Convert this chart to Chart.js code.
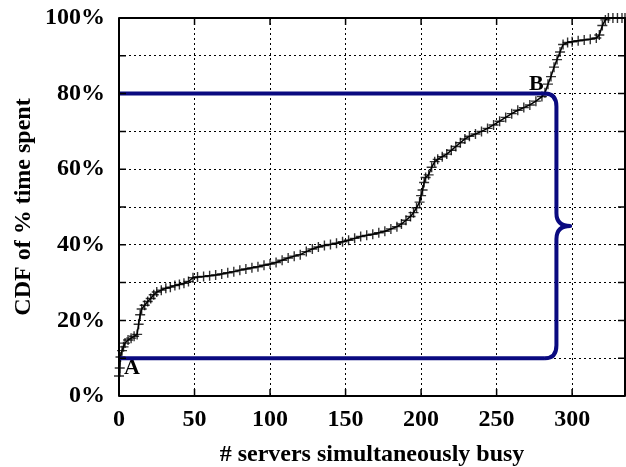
<!DOCTYPE html>
<html>
<head>
<meta charset="utf-8">
<script src="https://cdn.jsdelivr.net/npm/chart.js@4/dist/chart.umd.min.js"></script>
<style>
  html, body { margin: 0; padding: 0; background: #fff; }
  canvas { display: block; }
</style>
</head>
<body>
<canvas id="cdfChart" width="626" height="467"></canvas>
<script>
// CDF curve
const serversBusy = [
  0, 0.5, 1, 2, 3, 4, 6, 8, 10, 12, 13, 14, 15, 17, 19, 21, 23, 25, 28, 31,
  34, 37, 40, 43, 46, 49, 52, 56, 60, 64, 68, 72, 76, 80, 84, 88, 92, 96, 100, 104,
  108, 112, 116, 120, 124, 128, 132, 136, 140, 144, 148, 152, 156, 160, 164, 168, 172, 176, 180, 184,
  187, 190, 193, 195, 197, 199, 200, 201, 202, 203, 205, 207, 209, 211, 214, 217, 220, 223, 226, 229,
  232, 236, 240, 244, 248, 252, 256, 260, 264, 268, 272, 276, 280, 282, 284, 286, 288, 290, 292, 294,
  297, 300, 304, 308, 312, 316, 318, 320, 322, 324, 327, 330, 333, 335
];
const cdfPercent = [
  5.3, 7.4, 10.3, 12, 13, 14, 14.8, 15.3, 15.8, 16.3, 19, 21.5, 23, 24, 25, 25.8, 26.8, 27.5, 28, 28.5,
  28.8, 29.2, 29.5, 29.8, 30.3, 31.3, 31.5, 31.6, 31.8, 32, 32.3, 32.6, 32.9, 33.3, 33.6, 33.9, 34.2, 34.6, 34.9, 35.3,
  35.9, 36.5, 37, 37.4, 38.2, 38.9, 39.4, 39.8, 40.1, 40.4, 40.8, 41.2, 41.7, 42.2, 42.5, 42.8, 43.2, 43.6, 44.2, 44.8,
  45.5, 46.5, 47.5, 48.5, 49.8, 51.3, 53, 54.5, 56.5, 57.8, 58.5, 60.5, 62, 62.6, 63.3, 64, 65, 66, 67, 68,
  68.7, 69.3, 70, 70.8, 71.7, 72.7, 73.7, 74.7, 75.6, 76.3, 77, 78, 79.2, 80.2, 82.5, 84.5, 87, 89, 91, 93,
  93.5, 93.7, 94, 94.2, 94.4, 94.7, 95.5, 98, 99.5, 100, 100, 100, 100, 100
];

// axes
const xTickValues = [0, 50, 100, 150, 200, 250, 300];
const yGridValues = [0, 10, 20, 30, 40, 50, 60, 70, 80, 90, 100];
const yLabelValues = [0, 20, 40, 60, 80, 100];

// annotation: the two levels, the brace and the A / B labels
const markLevels = [10, 80];
const markEndX = 282;
const braceX = [282, 289.6, 298.7];   // start, spine, tip
const braceY = [10, 45, 80];          // bottom, tip, top
const pointLabels = ['A', 'B'];
const pointLabelX = [3.3, 271.5];
const pointLabelY = [5.7, 81];

const NAVY = '#0a0a80';
const FONT = "'Liberation Serif', 'Times New Roman', serif";

const curve = serversBusy.map((x, i) => ({ x: x, y: cdfPercent[i] }));

const levelSets = markLevels.map(lv => ({
    data: [{ x: 0, y: lv }, { x: markEndX, y: lv }],
    borderColor: NAVY,
    borderWidth: 4,
    pointRadius: 0,
    order: 0
}));

// text labels, drawn under the datasets
const labelPlugin = {
    id: 'pointLabels',
    beforeDatasetsDraw(chart) {
        const ctx = chart.ctx, xs = chart.scales.x, ys = chart.scales.y;
        ctx.save();
        ctx.font = 'bold 22px ' + FONT;
        ctx.fillStyle = '#000';
        ctx.textAlign = 'left';
        ctx.textBaseline = 'alphabetic';
        pointLabels.forEach((t, i) => {
            ctx.fillText(t, xs.getPixelForValue(pointLabelX[i]), ys.getPixelForValue(pointLabelY[i]));
        });
        ctx.restore();
    }
};

// frame, inner tick marks and the curly brace
const framePlugin = {
    id: 'frame',
    afterDatasetsDraw(chart) {
        const ctx = chart.ctx, a = chart.chartArea;
        const xs = chart.scales.x, ys = chart.scales.y;
        ctx.save();

        // brace
        const x0 = xs.getPixelForValue(braceX[0]);
        const xSp = xs.getPixelForValue(braceX[1]);
        const xTip = xs.getPixelForValue(braceX[2]);
        const yb = ys.getPixelForValue(braceY[0]);
        const ym = ys.getPixelForValue(braceY[1]);
        const yt = ys.getPixelForValue(braceY[2]);
        const r = 13;
        ctx.strokeStyle = NAVY;
        ctx.lineWidth = 4;
        ctx.lineCap = 'butt';
        ctx.lineJoin = 'round';
        ctx.beginPath();
        ctx.moveTo(x0, yb);
        ctx.quadraticCurveTo(xSp, yb, xSp, yb - r);
        ctx.lineTo(xSp, ym + r);
        ctx.quadraticCurveTo(xSp, ym, xTip, ym);
        ctx.quadraticCurveTo(xSp, ym, xSp, ym - r);
        ctx.lineTo(xSp, yt + r);
        ctx.quadraticCurveTo(xSp, yt, x0, yt);
        ctx.stroke();

        // tick marks pointing inwards
        ctx.strokeStyle = '#000';
        ctx.lineWidth = 1.5;
        ctx.beginPath();
        yGridValues.forEach(v => {
            const y = ys.getPixelForValue(v);
            ctx.moveTo(a.left, y); ctx.lineTo(a.left + 7, y);
            ctx.moveTo(a.right, y); ctx.lineTo(a.right - 7, y);
        });
        xTickValues.forEach(v => {
            const x = xs.getPixelForValue(v);
            ctx.moveTo(x, a.bottom); ctx.lineTo(x, a.bottom - 7);
            ctx.moveTo(x, a.top); ctx.lineTo(x, a.top + 7);
        });
        ctx.stroke();

        ctx.lineWidth = 2;
        ctx.strokeRect(a.left, a.top, a.right - a.left, a.bottom - a.top);
        ctx.restore();
    }
};

Chart.defaults.font.family = FONT;
Chart.defaults.font.weight = 'bold';
Chart.defaults.color = '#000';

new Chart(document.getElementById('cdfChart'), {
    type: 'line',
    data: {
        datasets: [
            {
                data: curve,
                borderColor: '#000',
                borderWidth: 1.5,
                pointStyle: 'cross',
                pointRadius: 5,
                pointBorderWidth: 1.4,
                pointBorderColor: 'rgba(0,0,0,0.8)',
                pointBackgroundColor: 'rgba(0,0,0,0)',
                clip: false,
                order: 1
            },
            ...levelSets
        ]
    },
    options: {
        responsive: false,
        animation: false,
        // plot box should sit at 119..625 x 18..396
        layout: { autoPadding: false, padding: { top: 18, right: 1, left: 0, bottom: 0 } },
        plugins: { legend: { display: false }, tooltip: { enabled: false } },
        scales: {
            x: {
                type: 'linear',
                min: 0,
                max: 335,
                afterBuildTicks: s => { s.ticks = xTickValues.map(v => ({ value: v })); },
                afterFit: s => { s.height = 71; s.paddingLeft = 0; s.paddingRight = 0; },
                ticks: { font: { size: 24, weight: 'bold' }, padding: 9, maxRotation: 0 },
                grid: { color: '#000', lineWidth: 1, drawTicks: false },
                border: { display: false, dash: [2, 3] },
                title: {
                    display: true,
                    text: '# servers simultaneously busy',
                    font: { size: 24, weight: 'bold' },
                    padding: { top: 6, bottom: -2 }
                }
            },
            y: {
                type: 'linear',
                min: 0,
                max: 100,
                afterBuildTicks: s => { s.ticks = yGridValues.map(v => ({ value: v })); },
                afterFit: s => { s.width = 119; s.paddingTop = 0; s.paddingBottom = 0; },
                ticks: {
                    font: { size: 24, weight: 'bold' },
                    padding: 14,
                    callback: v => yLabelValues.includes(v) ? v + '%' : ''
                },
                grid: { color: '#000', lineWidth: 1, drawTicks: false },
                border: { display: false, dash: [2, 3] },
                title: {
                    display: true,
                    text: 'CDF of % time spent',
                    font: { size: 24, weight: 'bold' },
                    padding: { top: 9, bottom: 0 }
                }
            }
        }
    },
    plugins: [labelPlugin, framePlugin]
});
</script>
</body>
</html>
